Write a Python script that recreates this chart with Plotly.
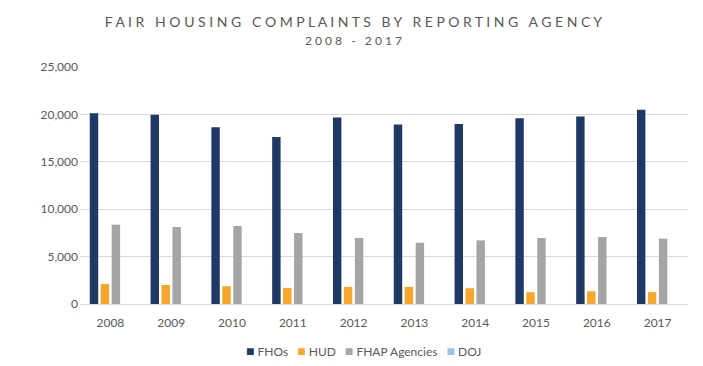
import plotly.graph_objects as go

years = ["2008", "2009", "2010", "2011", "2012", "2013", "2014", "2015", "2016", "2017"]
fhos = [20130, 19950, 18640, 17620, 19670, 18930, 18990, 19600, 19780, 20500]
hud = [2120, 2010, 1870, 1700, 1800, 1800, 1660, 1240, 1340, 1250]
fhap = [8370, 8120, 8230, 7490, 6960, 6460, 6710, 6960, 7060, 6890]
doj = [0, 0, 0, 0, 0, 0, 0, 0, 0, 0]

series_names = ["FHOs", "HUD", "FHAP Agencies", "DOJ"]
series_values = [fhos, hud, fhap, doj]
series_colors = ["#203864", "#F5A62B", "#A5A5A5", "#9DC3E6"]

title_main = "FAIR HOUSING COMPLAINTS BY REPORTING AGENCY"
title_sub = "2008 - 2017"

FONT = "Lato, Carlito, Calibri, 'Liberation Sans', sans-serif"
GRAY = "#595959"

fig = go.Figure()
for name, vals, color in zip(series_names, series_values, series_colors):
    fig.add_trace(go.Bar(x=years, y=vals, name=name, marker_color=color,
                         marker_line_width=0, showlegend=False))

def spaced(s):
    words = s.split(" ")
    return "   ".join(" ".join(list(w)) for w in words)

title_text = (spaced(title_main)
              + "<br><span style='font-size:12px'>" + spaced(title_sub) + "</span>")

legend_text = "\u2003".join(
    "<span style='color:%s;font-size:14px'>\u25A0</span> %s" % (c, n)
    for n, c in zip(series_names, series_colors))

fig.update_layout(
    width=695, height=358,
    margin=dict(l=72, r=15, t=59, b=62),
    paper_bgcolor="white", plot_bgcolor="white",
    font=dict(family=FONT, color=GRAY, size=12),
    title=dict(text=title_text, x=0.497, xanchor="center", y=0.948, yanchor="top",
               font=dict(family=FONT, size=14, color=GRAY)),
    barmode="group", bargap=0.28, bargroupgap=0.23,
    showlegend=False,
    xaxis=dict(showgrid=False, showline=True, linecolor="#D9D9D9", linewidth=1,
               ticks="", ticklabelstandoff=8, tickfont=dict(size=12, color=GRAY)),
    yaxis=dict(range=[0, 25000], dtick=5000, tickformat=",", showgrid=True,
               gridcolor="#D9D9D9", gridwidth=1, zeroline=False, showline=False,
               ticks="", ticklabelstandoff=1, tickfont=dict(size=12, color=GRAY)),
    annotations=[dict(text=legend_text, xref="paper", yref="paper", x=0.466, y=-0.198,
                      xanchor="center", yanchor="middle", showarrow=False,
                      font=dict(family=FONT, size=12, color=GRAY))],
)

fig.write_html("out.html")
